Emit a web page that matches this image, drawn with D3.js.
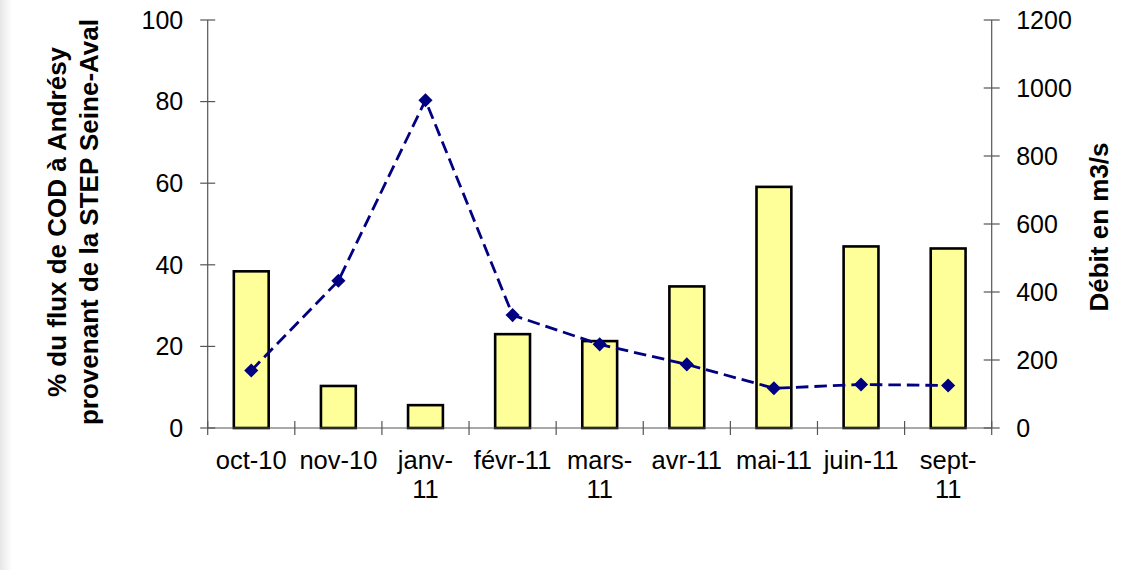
<!DOCTYPE html>
<html>
<head>
<meta charset="utf-8">
<script src="https://cdn.jsdelivr.net/npm/d3@7"></script>
<style>
  html, body { margin: 0; padding: 0; background: #ffffff; }
  svg { display: block; }
  text { font-family: "Liberation Sans", Arial, sans-serif; fill: #000; }
</style>
</head>
<body>
<svg id="chart" width="1122" height="570"></svg>
<script>
// Months of the campaign
const categories = ["oct-10", "nov-10", "janv-11", "févr-11", "mars-11", "avr-11", "mai-11", "juin-11", "sept-11"];
// Axis labels as printed under each month (long ones wrap after the hyphen)
const tickLabels = [["oct-10"], ["nov-10"], ["janv-", "11"], ["févr-11"], ["mars-", "11"], ["avr-11"], ["mai-11"], ["juin-11"], ["sept-", "11"]];
// Share (%) of the COD flux at Andrésy coming from the Seine-Aval plant
const shareCOD = [38.4, 10.3, 5.6, 23.0, 21.3, 34.7, 59.1, 44.5, 44.0];
// River discharge (m3/s)
const discharge = [169, 433, 964, 332, 246, 187, 117, 128, 125];
// Axis ticks
const leftTicks = [0, 20, 40, 60, 80, 100];
const rightTicks = [0, 200, 400, 600, 800, 1000, 1200];

const svg = d3.select("#chart");

// faint grey strip on the left edge
const defs = svg.append("defs");
const grad = defs.append("linearGradient").attr("id", "edge").attr("x1", 0).attr("x2", 1);
grad.append("stop").attr("offset", 0).attr("stop-color", "#e6e6e6");
grad.append("stop").attr("offset", 1).attr("stop-color", "#ffffff");
svg.append("rect").attr("x", 0).attr("y", 0).attr("width", 12).attr("height", 570).attr("fill", "url(#edge)");

const plot = { left: 207.7, right: 991.7, top: 20, bottom: 428 };

const x = d3.scaleBand().domain(categories).range([plot.left, plot.right]).padding(0);
const yL = d3.scaleLinear().domain([0, 100]).range([plot.bottom, plot.top]);
const yR = d3.scaleLinear().domain([0, 1200]).range([plot.bottom, plot.top]);

const axisColor = "#555";

// Bars
const bw = x.bandwidth();
svg.append("g").selectAll("rect")
  .data(categories)
  .join("rect")
  .attr("x", (d) => x(d) + bw * 0.3)
  .attr("width", bw * 0.4)
  .attr("y", (d, i) => yL(shareCOD[i]))
  .attr("height", (d, i) => plot.bottom - yL(shareCOD[i]))
  .attr("fill", "#FFFF99")
  .attr("stroke", "#000")
  .attr("stroke-width", 2.6);

// Left axis
const gL = svg.append("g").attr("transform", `translate(${plot.left},0)`);
gL.append("line").attr("y1", plot.top).attr("y2", plot.bottom).attr("stroke", axisColor).attr("stroke-width", 1.2);
gL.selectAll("line.t").data(leftTicks).join("line").attr("class", "t")
  .attr("x1", -7.5).attr("x2", 7.5)
  .attr("y1", (d) => yL(d)).attr("y2", (d) => yL(d))
  .attr("stroke", axisColor).attr("stroke-width", 1.2);
gL.selectAll("text").data(leftTicks).join("text")
  .attr("x", -24.5).attr("y", (d) => yL(d))
  .attr("dy", "0.35em")
  .attr("text-anchor", "end")
  .style("font-size", "25px")
  .text((d) => d);

// Right axis
const gR = svg.append("g").attr("transform", `translate(${plot.right},0)`);
gR.append("line").attr("y1", plot.top).attr("y2", plot.bottom).attr("stroke", axisColor).attr("stroke-width", 1.2);
gR.selectAll("line.t").data(rightTicks).join("line").attr("class", "t")
  .attr("x1", -8).attr("x2", 8)
  .attr("y1", (d) => yR(d)).attr("y2", (d) => yR(d))
  .attr("stroke", axisColor).attr("stroke-width", 1.2);
gR.selectAll("text").data(rightTicks).join("text")
  .attr("x", 24.5).attr("y", (d) => yR(d))
  .attr("dy", "0.35em")
  .attr("text-anchor", "start")
  .style("font-size", "25px")
  .text((d) => d);

// Category axis
const gX = svg.append("g");
gX.append("line").attr("x1", plot.left).attr("x2", plot.right)
  .attr("y1", plot.bottom).attr("y2", plot.bottom)
  .attr("stroke", axisColor).attr("stroke-width", 1.2);
const boundaries = categories.map((c) => x(c)).concat([plot.right]);
gX.selectAll("line.t").data(boundaries).join("line").attr("class", "t")
  .attr("x1", (d) => d).attr("x2", (d) => d)
  .attr("y1", plot.bottom - 7).attr("y2", plot.bottom + 7)
  .attr("stroke", axisColor).attr("stroke-width", 1.2);
const labels = gX.selectAll("text").data(categories).join("text")
  .attr("text-anchor", "middle")
  .style("font-size", "25.5px")
  .attr("transform", (d) => `translate(${x(d) + bw / 2},468.5)`);
labels.each(function (d, i) {
  d3.select(this).selectAll("tspan").data(tickLabels[i]).join("tspan")
    .attr("x", 0).attr("y", (t, j) => j * 29.5)
    .text((t) => t);
});

// Discharge line
const line = d3.line()
  .x((d, i) => x(categories[i]) + bw / 2)
  .y((d) => yR(d));
svg.append("path")
  .datum(discharge)
  .attr("d", line)
  .attr("fill", "none")
  .attr("stroke", "#000080")
  .attr("stroke-width", 2.8)
  .attr("stroke-dasharray", "12.5,6");

svg.append("g").selectAll("path")
  .data(discharge)
  .join("path")
  .attr("d", d3.symbol().type(d3.symbolSquare).size(100))
  .attr("transform", (d, i) => `translate(${x(categories[i]) + bw / 2},${yR(d)}) rotate(45)`)
  .attr("fill", "#000080");

// Axis titles
const titleL = svg.append("text")
  .attr("transform", `translate(0,${(plot.top + plot.bottom) / 2 - 2}) rotate(-90)`)
  .attr("text-anchor", "middle")
  .style("font-size", "26px")
  .style("font-weight", "bold");
titleL.append("tspan").attr("x", 0).attr("y", 65.5).text("% du flux de COD à Andrésy");
titleL.append("tspan").attr("x", 0).attr("y", 98).text("provenant de la STEP Seine-Aval");

svg.append("text")
  .attr("transform", `translate(1108,${(plot.top + plot.bottom) / 2 + 3}) rotate(-90)`)
  .attr("text-anchor", "middle")
  .style("font-size", "26px")
  .style("font-weight", "bold")
  .text("Débit en m3/s");
</script>
</body>
</html>
